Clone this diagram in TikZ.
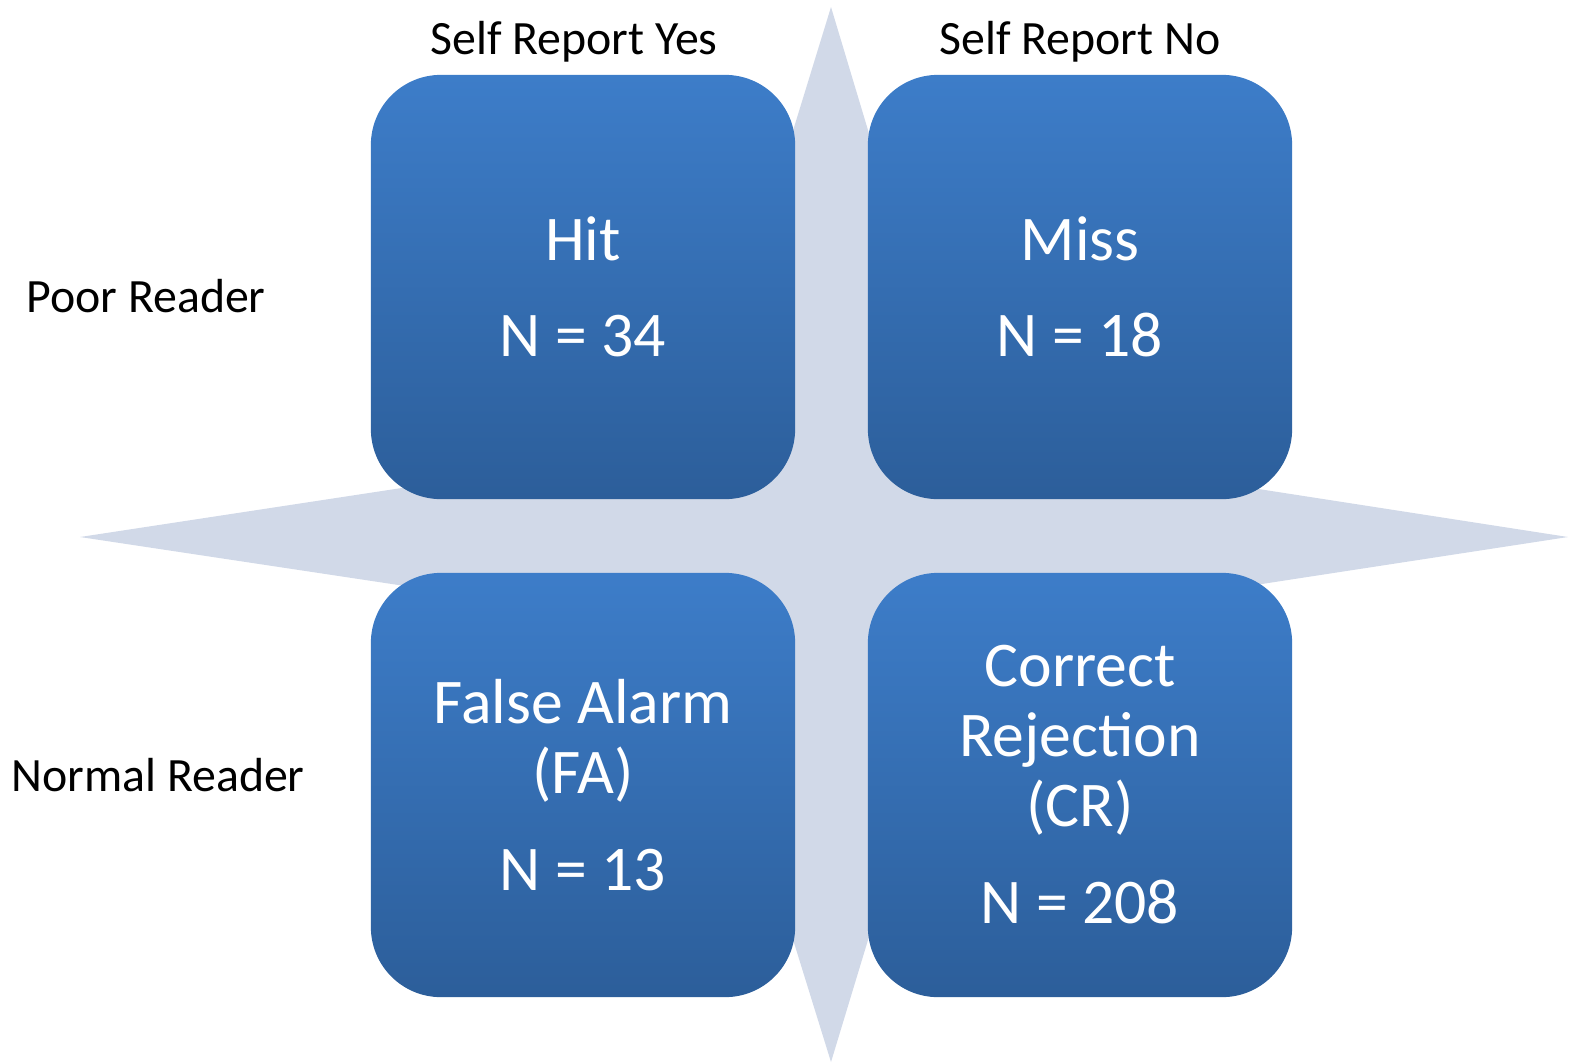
\documentclass[tikz,border=0pt]{standalone}
\usepackage{fontspec}
\setmainfont{Carlito}
\usepackage{xcolor}
\usepackage{tikz}
\usetikzlibrary{positioning}
\definecolor{boxtop}{RGB}{61,125,201}
\definecolor{boxbot}{RGB}{44,94,154}
\definecolor{starfill}{RGB}{209,217,232}

\begin{document}
\begin{tikzpicture}[x=0.01cm, y=-0.01cm,
    cell/.style={rounded corners=0.7cm, minimum width=4.24cm, minimum height=4.24cm,
      inner sep=0pt, top color=boxtop, bottom color=boxbot, text=white, align=center,
      font=\fontsize{18.1}{19.9}\selectfont},
    axislabel/.style={font=\fontsize{13.6}{15}\selectfont, text=black}]
  \path[use as bounding box] (0,0) rectangle (1570,1063);

  % four-point star behind the cells
  \fill[starfill] (831,7) -- (962,443) -- (1568,537) -- (962,630)
    -- (831,1062) -- (697,630) -- (80,537) -- (697,443) -- cycle;

  % the 2x2 grid
  \node[cell] (hit)  at (583,287) {Hit\\[0.26cm] N = 34};
  \node[cell] (miss) at (1080,287) {Miss\\[0.26cm] N = 18};
  \node[cell] (fa)   at (583,785) {False Alarm\\(FA)\\[0.27cm] N = 13};
  \node[cell] (cr)   at (1080,785) {Correct\\Rejection\\(CR)\\[0.27cm] N = 208};

  % row and column labels
  \node[axislabel] (yes)    at (574,42)  {Self Report Yes};
  \node[axislabel] (no)     at (1080,42) {Self Report No};
  \node[axislabel] (poor)   at (146,296) {Poor Reader};
  \node[axislabel] (normal) at (158,775) {Normal Reader};

\end{tikzpicture}
\end{document}
